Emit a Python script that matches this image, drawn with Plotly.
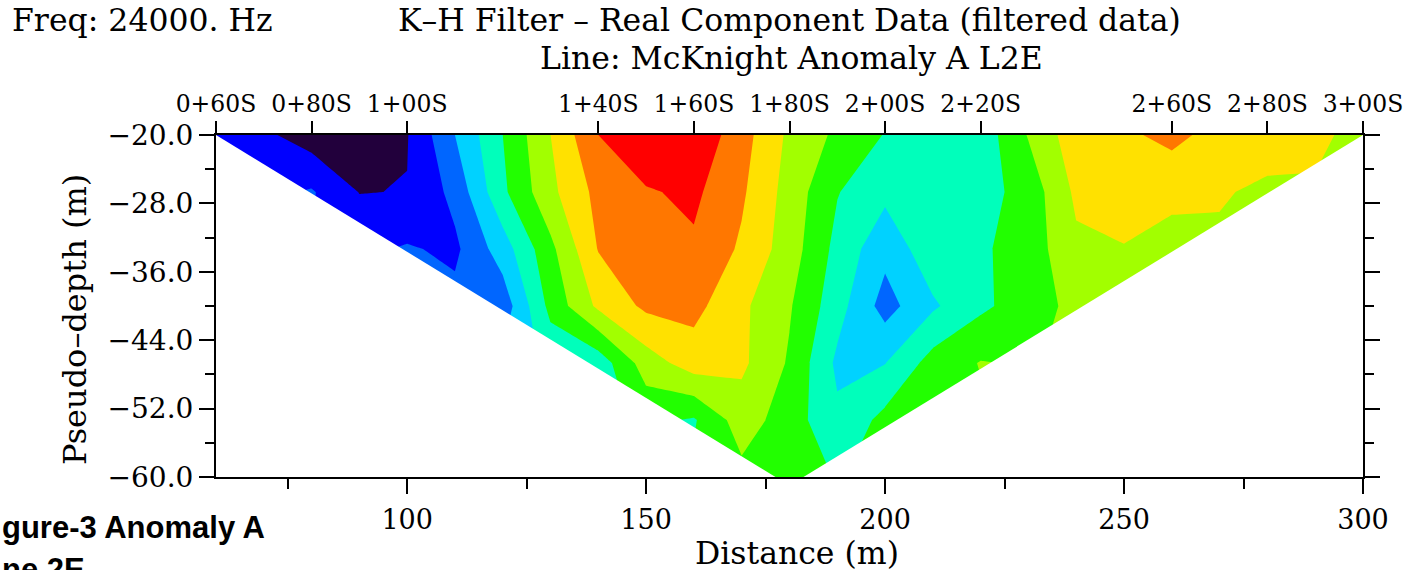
import plotly.graph_objects as go

# ---- data -------------------------------------------------------------
distance_m = [60, 70, 80, 90, 100, 110, 120, 130, 140, 150, 160, 170, 180,
              190, 200, 210, 220, 230, 240, 250, 260, 270, 280, 290, 300]
pseudo_depth_m = [-20.0, -26.667, -33.333, -40.0, -46.667, -53.333, -60.0]

N = None
real_row_20 = [-31, -38, -45, -46, -40.5, -20, 0, 20, 40, 49, 48, 34, 18, 8, -0.5,
               -7, -6, 10.7, 26, 28, 33, 26, 25, 22, 17]
real_row_27 = [N, N, -29, -40.3, -39.7, -27, -2, 17.5, 33, 39, 42, 31.5, 16, 0.5, -7.5,
               -7, -4, 4, 22, 25, 22, 21, 18, N, N]
real_row_33 = [N, N, N, N, -29, -32, -15, 7.5, 30.5, 36, 38.5, 28.5, 15, -3, -17,
               -3.5, -1.5, 4.5, 18, 19.5, 17, N, N, N, N]
real_row_40 = [N, N, N, N, N, N, -26, 3, 22, 32, 33, 22, 11, -6, -24,
               -11.5, -2, 5, 13, N, N, N, N, N, N]
real_row_47 = [N, N, N, N, N, N, N, N, -6, 15, 25, 22, 8.8, -12, -10.3,
               4, 10.5, N, N, N, N, N, N, N, N]
real_row_53 = [N, N, N, N, N, N, N, N, N, N, -1, 15, 5, -8, 3,
               N, N, N, N, N, N, N, N, N, N]
real_row_60 = [N, N, N, N, N, N, N, N, N, N, N, N, 4, N, N,
               N, N, N, N, N, N, N, N, N, N]
real_rows = [real_row_20, real_row_27, real_row_33, real_row_40,
             real_row_47, real_row_53, real_row_60]

station_m = [60, 80, 100, 140, 160, 180, 200, 220, 260, 280, 300]
station_labels = ["0+60S", "0+80S", "1+00S", "1+40S", "1+60S", "1+80S",
                  "2+00S", "2+20S", "2+60S", "2+80S", "3+00S"]

level_colors = ["#22003c", "#0000ff", "#0066ff", "#00d2ff", "#00ffbb",
                "#22ff00", "#a2ff00", "#ffe100", "#ff7700", "#ff0000"]
level_start, level_end, level_size = -40, 40, 10

# ---- figure -----------------------------------------------------------
n = len(level_colors)
colorscale = []
for i, c in enumerate(level_colors):
    colorscale.append([i / n, c])
    colorscale.append([(i + 1) / n, c])

fig = go.Figure()
fig.add_trace(go.Contour(
    x=distance_m, y=pseudo_depth_m[::-1], z=real_rows[::-1],
    connectgaps=True,
    colorscale=colorscale, zmin=level_start - level_size, zmax=level_end + level_size,
    zauto=False, showscale=False,
    contours=dict(start=level_start, end=level_end, size=level_size,
                  coloring="fill", showlines=False),
    line=dict(width=0, smoothing=0), hoverinfo="skip"))

# white masks outside the pseudo-section triangle (no data there)
x0, x1 = distance_m[0], distance_m[-1]
y_top, y_bot = pseudo_depth_m[0], pseudo_depth_m[-1]
apex_x = [x for x, v in zip(distance_m, real_rows[-1]) if v is not None][0]
for xs in ([x0, apex_x, x0 - 5, x0 - 5, x0], [x1, apex_x, x1 + 5, x1 + 5, x1]):
    fig.add_trace(go.Scatter(
        x=xs, y=[y_top, y_bot - 1, y_bot - 1, y_top, y_top],
        fill="toself", fillcolor="white", mode="lines",
        line=dict(width=0, color="white"), hoverinfo="skip", showlegend=False))

# invisible trace to carry the top (station) axis
fig.add_trace(go.Scatter(x=station_m, y=[y_top] * len(station_m), xaxis="x2",
                         mode="markers", marker=dict(opacity=0),
                         hoverinfo="skip", showlegend=False))

FONT = "DejaVu Serif"
W, H = 1407, 570
L, R, T, B = 216, 44, 135, 93

def px_x(p):
    return (p - L) / (W - L - R)

def px_y(p):
    return (H - B - p) / (H - T - B)

fig.update_layout(
    template="none",
    width=W, height=H, margin=dict(l=L, r=R, t=T, b=B, autoexpand=False),
    paper_bgcolor="white", plot_bgcolor="white", showlegend=False,
    font=dict(family=FONT, color="black"),
    xaxis=dict(range=[x0, x1], tick0=0, dtick=50, ticks="outside", ticklen=15,
               tickwidth=2, tickcolor="black", showline=True, linewidth=2,
               linecolor="black", showgrid=False, zeroline=False, automargin=False,
               tickfont=dict(family=FONT, size=27), ticklabelstandoff=3,
               minor=dict(dtick=25, ticks="outside", ticklen=10, tickwidth=2,
                          tickcolor="black", showgrid=False)),
    xaxis2=dict(range=[x0, x1], overlaying="x", side="top", anchor="y",
                tickmode="array", tickvals=station_m, ticktext=station_labels,
                ticks="outside", ticklen=12, tickwidth=2, tickcolor="black",
                showline=True, linewidth=2, linecolor="black", showgrid=False,
                zeroline=False, automargin=False,
                tickfont=dict(family=FONT, size=23.5)),
    yaxis=dict(range=[y_bot, y_top], tick0=-20, dtick=8, tickformat=".1f",
               ticks="outside", ticklen=15, tickwidth=2, tickcolor="black",
               showline=True, linewidth=2, linecolor="black", mirror="ticks",
               showgrid=False, zeroline=False, automargin=False,
               tickfont=dict(family=FONT, size=28),
               minor=dict(dtick=4, ticks="outside", ticklen=9, tickwidth=2,
                          tickcolor="black", showgrid=False)),
)

annots = [
    dict(text="Freq: 24000. Hz", x=px_x(10), y=px_y(20), xanchor="left",
         yanchor="middle", font=dict(family=FONT, size=31.5)),
    dict(text="K–H Filter – Real Component Data (filtered data)", x=px_x(789),
         y=px_y(20), xanchor="center", yanchor="middle",
         font=dict(family=FONT, size=31.5)),
    dict(text="Line: McKnight Anomaly A L2E", x=px_x(791), y=px_y(57.5),
         xanchor="center", yanchor="middle", font=dict(family=FONT, size=31.5)),
    dict(text="Distance (m)", x=px_x(797), y=px_y(553), xanchor="center",
         yanchor="middle", font=dict(family=FONT, size=31.5)),
    dict(text="Pseudo–depth (m)", x=px_x(75), y=px_y(320), xanchor="center",
         yanchor="middle", textangle=-90, font=dict(family=FONT, size=32)),
    dict(text="<b>gure-3 Anomaly A</b>", x=px_x(0), y=px_y(527), xanchor="left",
         yanchor="middle", font=dict(family="Liberation Sans", size=31)),
    dict(text="<b>ne 2E</b>", x=px_x(0), y=px_y(569), xanchor="left",
         yanchor="middle", font=dict(family="Liberation Sans", size=31)),
]
for a in annots:
    a.update(xref="paper", yref="paper", showarrow=False)
fig.update_layout(annotations=annots)

fig.write_html("out.html")
